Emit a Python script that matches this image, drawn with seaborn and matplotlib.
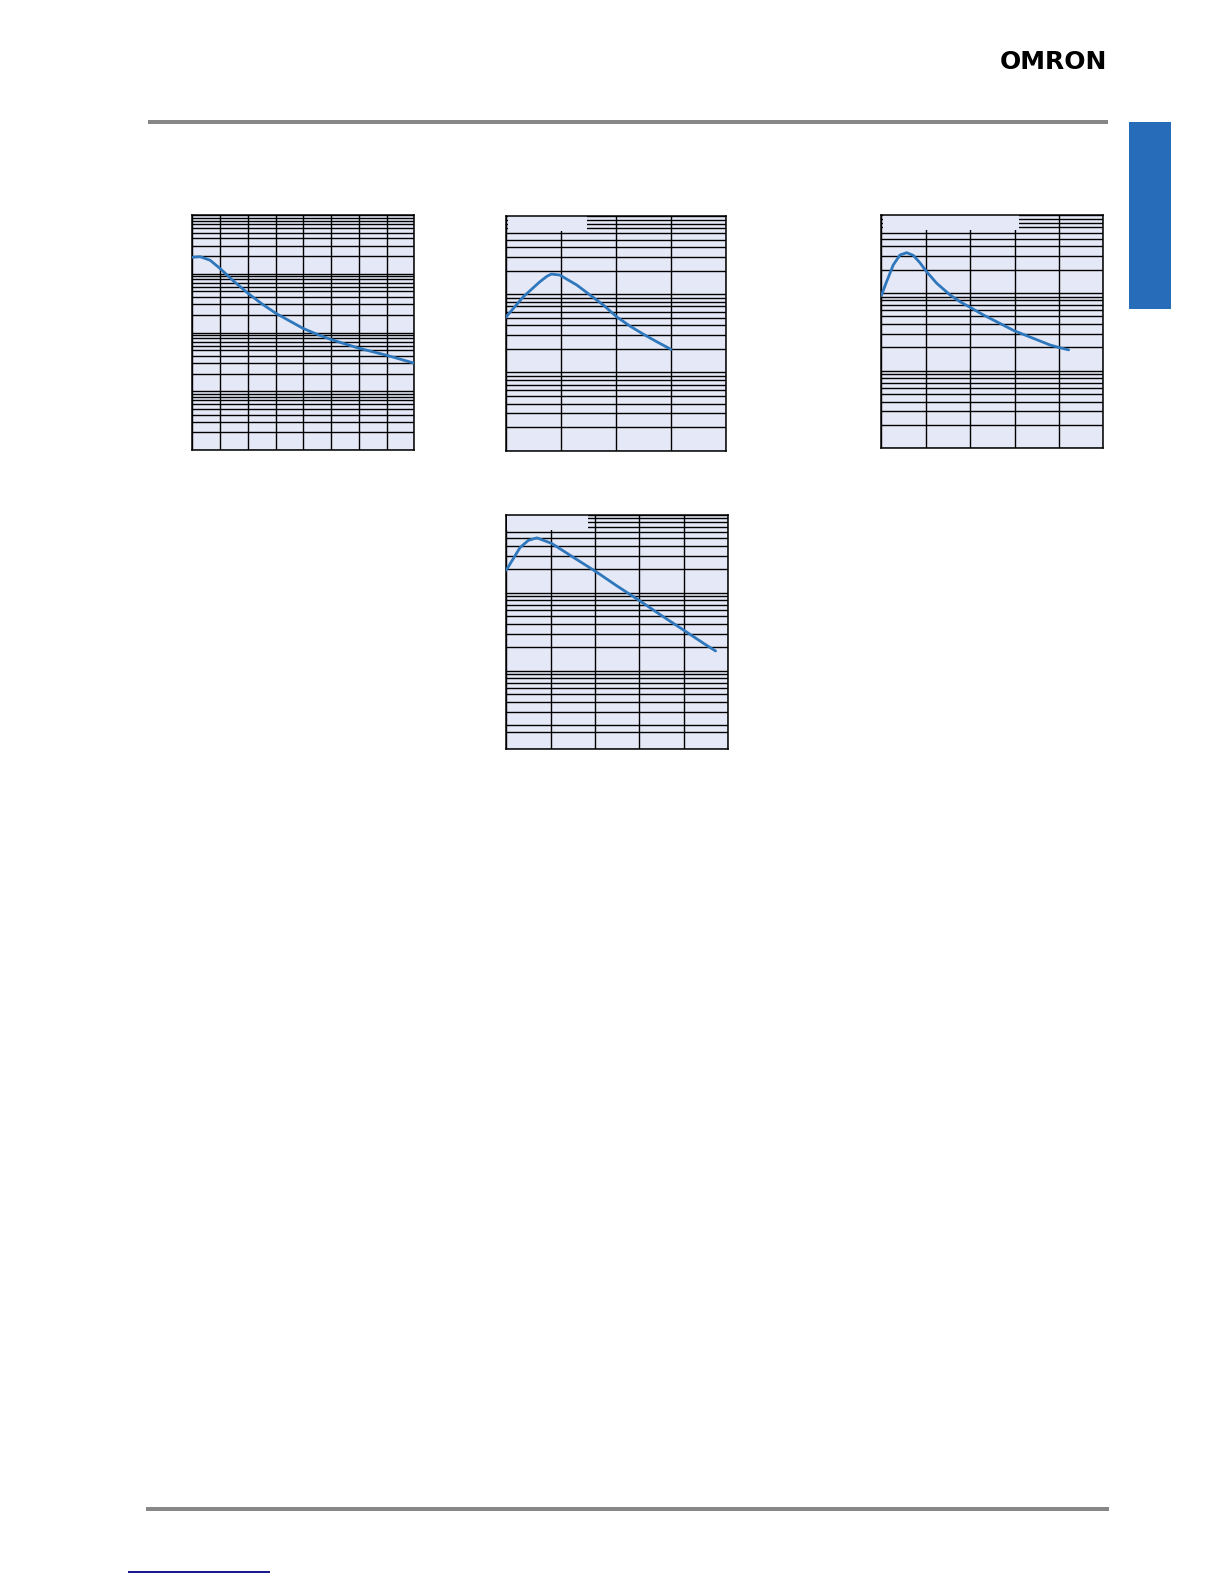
import numpy as np
import pandas as pd
import matplotlib
matplotlib.use("Agg")
import matplotlib.pyplot as plt
from matplotlib.ticker import LogLocator, MultipleLocator, NullFormatter, FixedLocator
from matplotlib.patches import Rectangle
import seaborn as sns

# ---------------- data ----------------
c1_x = [0, 0.28, 0.64, 1.0, 1.5, 2.0, 2.5, 3.0, 3.5, 4.0, 4.5, 5.0, 6.0, 7.0, 8.0]
c1_y = [1905, 1950, 1700, 1230, 741, 468, 309, 214, 158, 117, 93, 76, 54, 41, 30]

c2_x = [0, 0.32, 0.62, 0.75, 0.83, 0.98, 1.29, 1.53, 1.77, 2.01, 2.25, 2.50, 2.74, 3.0]
c2_y = [50.6, 92.9, 144.5, 170, 181, 176, 131, 97.7, 72.8, 51.6, 39.3, 30.7, 24.7, 19.7]

c3_x = [0, 0.12, 0.27, 0.42, 0.57, 0.72, 0.87, 1.02, 1.25, 1.55, 1.77, 2.0, 2.30,
        2.67, 2.99, 3.42, 3.80, 4.01, 4.22]
c3_y = [92.5, 140, 230, 308, 330, 305, 245, 188, 133, 94.2, 77.3, 65.3, 52.1,
        40.6, 32.7, 26.1, 21.4, 19.8, 18.5]

c4_x = [0, 0.31, 0.50, 0.69, 1.02, 1.51, 2.02, 2.49, 3.01, 3.55, 4.01, 4.45, 4.72]
c4_y = [195, 380, 470, 505, 430, 285, 187, 123, 79, 49, 33, 22.5, 18]

x_max = [8, 4, 5, 5]
y_lim = [(1, 1e4), (1, 1e3), (1, 1e3), (1, 1e3)]
extra_grid = [[], [], [], [1.65]]

# ---------------- styling ----------------
sns.set_style("white")
plt.rcParams['font.family'] = ['DejaVu Sans']

W, H = 1224, 1584
fig = plt.figure(figsize=(W / 100, H / 100), dpi=100)
fig.patch.set_facecolor("white")

BG = "#e5e9f7"
CURVE = "#2f77bd"

# axes boxes in pixels: left, top, right, bottom
boxes = [
    (192.3, 215.0, 414.3, 450.0),
    (505.7, 216.0, 726.3, 450.7),
    (881.3, 215.3, 1103.3, 448.3),
    (506.3, 514.7, 728.0, 749.0),
]
# blank legend areas (axes fraction: x0, x1, y0)
blanks = [None, (0.009, 0.367, 0.937), (0.009, 0.620, 0.937), (0.0045, 0.37, 0.935)]

series = [(c1_x, c1_y), (c2_x, c2_y), (c3_x, c3_y), (c4_x, c4_y)]

for i, ((l, t, r, b), (xs, ys)) in enumerate(zip(boxes, series)):
    ax = fig.add_axes([l / W, 1 - b / H, (r - l) / W, (b - t) / H])
    ax.set_facecolor(BG)
    df = pd.DataFrame({"x": xs, "y": ys})
    sns.lineplot(data=df, x="x", y="y", ax=ax, color=CURVE, lw=2.0,
                 sort=False, estimator=None, zorder=3)
    ax.lines[-1].set_solid_joinstyle("round")
    ax.set_yscale("log")
    ax.set_xlim(0, x_max[i])
    ax.set_ylim(*y_lim[i])
    ax.xaxis.set_major_locator(MultipleLocator(1))
    ax.yaxis.set_major_locator(LogLocator(base=10, numticks=20))
    minors = list(LogLocator(base=10, subs=np.arange(2, 10), numticks=50).tick_values(*y_lim[i]))
    minors = [m for m in minors if y_lim[i][0] < m < y_lim[i][1]] + extra_grid[i]
    ax.yaxis.set_minor_locator(FixedLocator(minors))
    ax.yaxis.set_minor_formatter(NullFormatter())
    ax.set_axisbelow(True)
    ax.grid(True, which="both", axis="y", color="black", lw=1.0)
    ax.grid(True, which="major", axis="x", color="black", lw=1.0)
    ax.tick_params(which="both", length=0, labelleft=False, labelbottom=False)
    ax.set_xlabel("")
    ax.set_ylabel("")
    for s in ax.spines.values():
        s.set_color("black")
        s.set_linewidth(1.1)
        s.set_visible(True)
    if blanks[i] is not None:
        x0, x1, y0 = blanks[i]
        ax.add_patch(Rectangle((x0, y0), x1 - x0, 1 - y0, transform=ax.transAxes,
                               facecolor=BG, edgecolor="none", zorder=1))

# ---------------- page decorations ----------------
deco = fig.add_axes([0, 0, 1, 1])
deco.set_xlim(0, W)
deco.set_ylim(H, 0)
deco.axis("off")
deco.patch.set_alpha(0)

deco.add_patch(Rectangle((148, 120), 960, 3.5, facecolor="#878787", edgecolor="none"))
deco.add_patch(Rectangle((146, 1507), 963, 3.5, facecolor="#878787", edgecolor="none"))
deco.add_patch(Rectangle((1129, 122), 42, 187, facecolor="#276cb9", edgecolor="none"))
deco.add_patch(Rectangle((128, 1571), 142, 1.6, facecolor="#1b1b8f", edgecolor="none"))
deco.text(1107, 62, "OMRON", ha="right", va="center", fontsize=18,
          fontweight="heavy", color="black", family=["DejaVu Sans"])

fig.savefig("out.png", dpi=100, facecolor="white")
